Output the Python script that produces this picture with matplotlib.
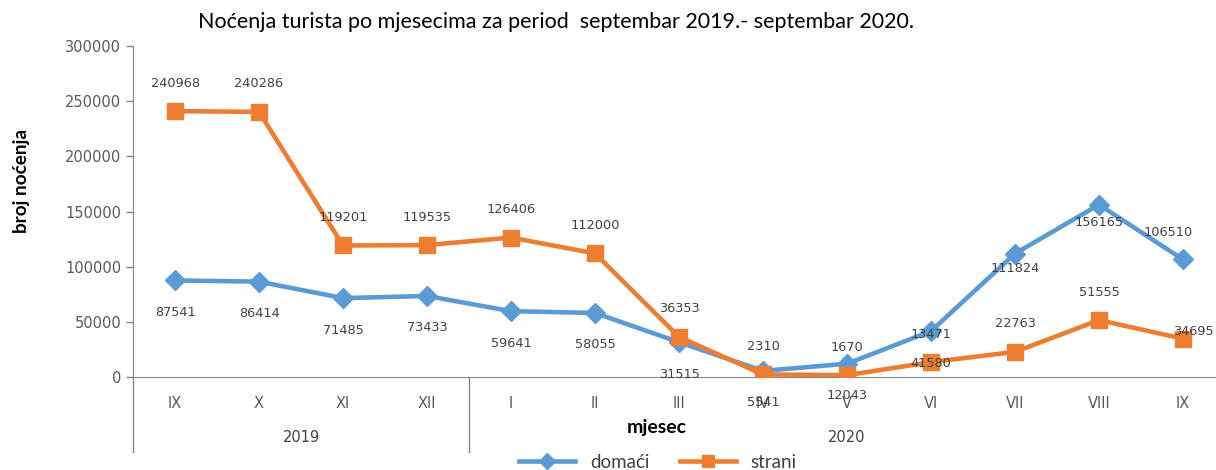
import matplotlib
matplotlib.use("Agg")
import matplotlib.pyplot as plt

months = ["IX", "X", "XI", "XII", "I", "II", "III", "IV", "V", "VI", "VII", "VIII", "IX"]
years = ["2019", "2020"]
year_spans = [(0, 3), (4, 12)]
domaci = [87541, 86414, 71485, 73433, 59641, 58055, 31515, 5541, 12043, 41580, 111824, 156165, 106510]
strani = [240968, 240286, 119201, 119535, 126406, 112000, 36353, 2310, 1670, 13471, 22763, 51555, 34695]

# label offsets in pixels (dx, dy) relative to the marker (dy positive = up)
dom_off = [(0, -32)] * 10 + [(0, -15), (0, -18), (-15, 27)]
str_off = [(0, 28)] * 12 + [(10, 7)]

BLUE = "#5B9BD5"
ORANGE = "#ED7D31"
TXT = "#404040"
GRID = "#868686"
HUM = ["Lato", "DejaVu Sans"]

W, H = 1216, 470
fig = plt.figure(figsize=(W / 100, H / 100), dpi=100)
left, right = 133, 1225
top, bottom = 46, 377
ax = fig.add_axes([left / W, 1 - bottom / H, (right - left) / W, (bottom - top) / H])

x = list(range(len(months)))
ax.plot(x, domaci, color=BLUE, lw=3.3, marker="D", ms=10, label="domaći", zorder=3)
ax.plot(x, strani, color=ORANGE, lw=3.3, marker="s", ms=11, label="strani", zorder=4)

for i, v in enumerate(domaci):
    dx, dy = dom_off[i]
    ax.annotate(str(v), (i, v), xytext=(dx, dy), textcoords="offset pixels",
                ha="center", va="center", fontsize=9.3, color=TXT, zorder=5)
for i, v in enumerate(strani):
    dx, dy = str_off[i]
    ax.annotate(str(v), (i, v), xytext=(dx, dy), textcoords="offset pixels",
                ha="center", va="center", fontsize=9.3, color=TXT, zorder=5)

ax.set_xlim(-0.5, len(months) - 0.5)
ax.set_ylim(0, 300000)
ax.set_yticks(range(0, 300001, 50000))
ax.tick_params(axis="y", colors=GRID, labelcolor="#595959", labelsize=10.5, length=5, width=1)
ax.set_xticks(x)
ax.set_xticklabels(months)
ax.tick_params(axis="x", length=0, labelcolor="#595959", labelsize=10.5, pad=14)

for s in ["top", "right"]:
    ax.spines[s].set_visible(False)
ax.spines["left"].set_color(GRID)
ax.spines["bottom"].set_color(GRID)
ax.spines["left"].set_bounds(0, 300000)

ext = -(452 - bottom) / (bottom - top)
ax.plot([-0.5, -0.5], [ext, 0], transform=ax.get_xaxis_transform(), color=GRID, lw=1, clip_on=False)
ax.plot([3.5, 3.5], [ext, 0], transform=ax.get_xaxis_transform(), color=GRID, lw=1, clip_on=False)

for yr, (a, b) in zip(years, year_spans):
    ax.text((a + b) / 2, -(437 - bottom) / (bottom - top), yr, transform=ax.get_xaxis_transform(),
            ha="center", va="center", fontsize=10.5, color=TXT)

fig.text(22 / W, 1 - 181 / H, "broj noćenja", rotation=90, ha="center", va="center",
         fontsize=13.6, fontweight="bold", family=HUM)
fig.text(657 / W, 1 - 427 / H, "mjesec", ha="center", va="center", fontsize=14,
         fontweight="bold", family=HUM)

fig.text(556 / W, 1 - 22 / H, "Noćenja turista po mjesecima za period  septembar 2019.- septembar 2020.",
         ha="center", va="center", fontsize=15.5, family=HUM)

fig.legend(loc="center", bbox_to_anchor=(658 / W, 1 - 462 / H), ncol=2, frameon=False,
           prop={"family": HUM, "size": 13.5}, handlelength=3.0, markerscale=0.8,
           columnspacing=1.6, labelcolor=TXT)

fig.savefig("out.png", dpi=100)
